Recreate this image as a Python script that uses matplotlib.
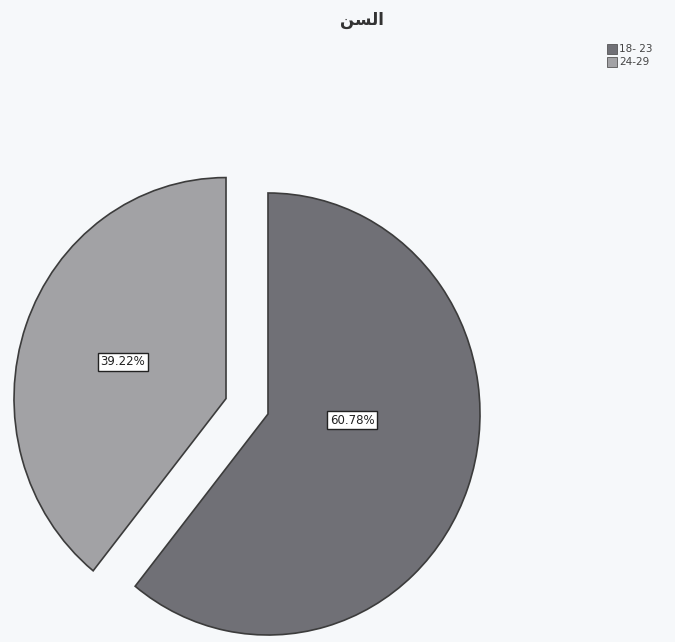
import matplotlib
matplotlib.use("Agg")
import matplotlib.pyplot as plt
from matplotlib.patches import Rectangle

# data
labels = ["18- 23", "24-29"]
shares = [60.78, 39.22]
colors = ["#707076", "#a2a2a5"]
explode_frac = [0, 0.21]
# "السن" pre-shaped for left-to-right rendering
title = "\uFEE6\uFEB4\uFEDF\uFE8D"

W, H = 675, 642
YS = 1.0425  # the scan is slightly stretched vertically
R = 212

fig = plt.figure(figsize=(W / 100, H / 100), dpi=100)
fig.patch.set_facecolor("#f6f8fa")
ax = fig.add_axes([0, 0, 1, 1])
ax.set_facecolor("#f6f8fa")

# matplotlib's explode is in data units, not radius fractions
wedges, texts = ax.pie(
    shares, colors=colors, explode=[e * R for e in explode_frac],
    startangle=90, counterclock=False,
    radius=R, center=(268, (H - 414) / YS),
    wedgeprops=dict(edgecolor="#3c3c3c", linewidth=1.2),
)
ax.set_aspect("auto")
ax.set_xlim(0, W)
ax.set_ylim(0, H / YS)
ax.axis("off")

# percentage labels in white boxes
label_pos = [(352, 420), (123, 362)]
for (px, py), val in zip(label_pos, shares):
    fig.text(px / W, 1 - py / H, f"{val:.2f}%", ha="center", va="center",
             fontsize=8.5, color="#222222", family="DejaVu Sans",
             bbox=dict(boxstyle="square,pad=0.25", fc="white", ec="#222222", lw=1))

fig.text(362 / W, 1 - 20 / H, title, ha="center", va="center",
         fontsize=12, color="#333333", family="DejaVu Sans", weight="bold")

# legend
for i, (lab, c) in enumerate(zip(labels, colors)):
    y = 49 + i * 13
    fig.patches.append(Rectangle((607 / W, 1 - (y + 5) / H), 10 / W, 10 / H,
                                 transform=fig.transFigure, fc=c, ec="#555555", lw=0.6))
    fig.text(619 / W, 1 - y / H, lab, ha="left", va="center",
             fontsize=7.5, color="#444444")

fig.savefig("out.png", dpi=100, facecolor=fig.get_facecolor())
